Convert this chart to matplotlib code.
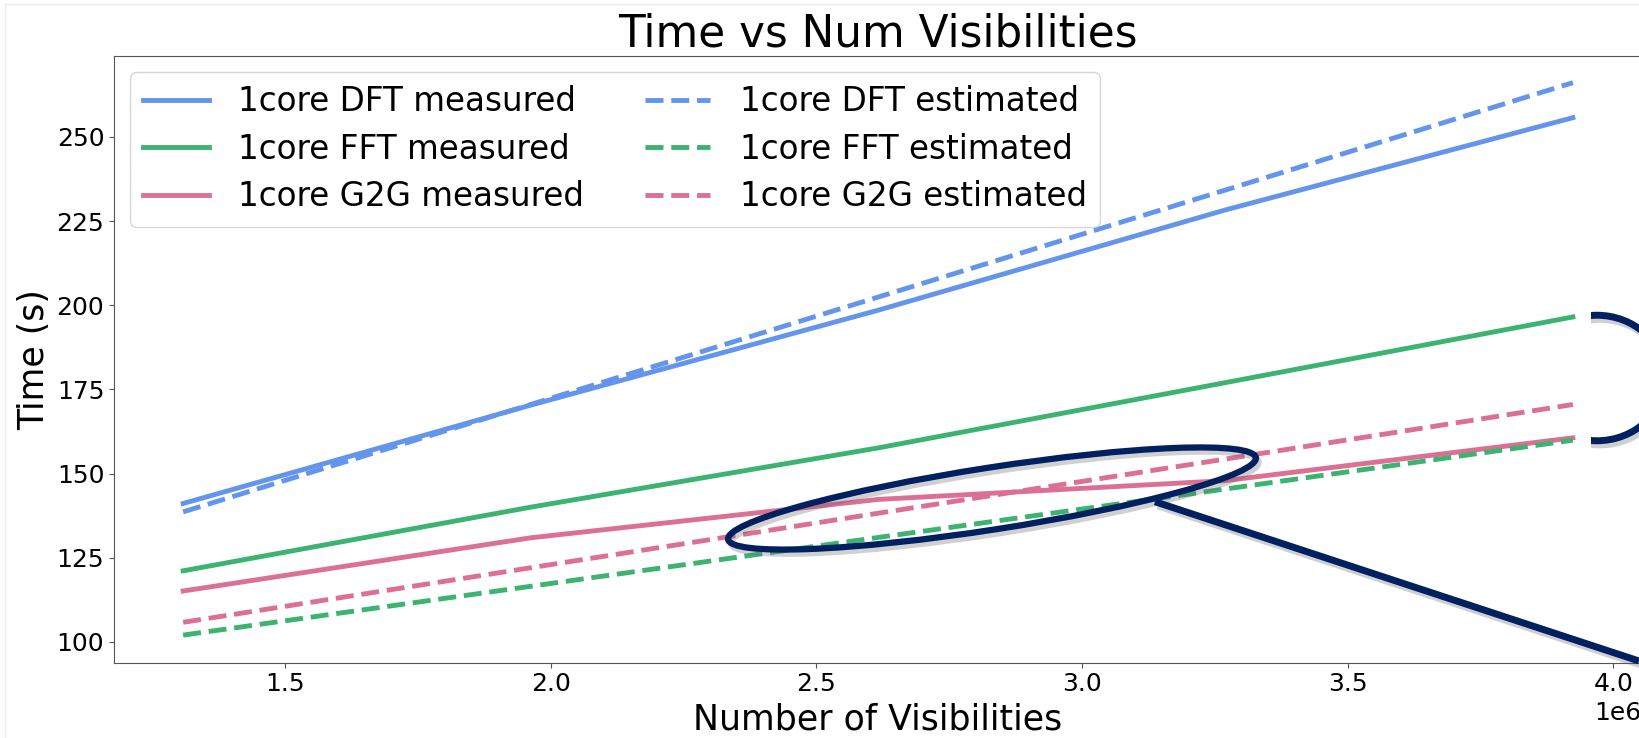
"""
Time vs number of visibilities for the 1-core DFT / FFT / G2G runs,
measured against estimated, with the highlighted crossing region.
"""

import matplotlib
matplotlib.use('Agg')
import matplotlib.pyplot as plt
import matplotlib.patheffects as pe
from matplotlib.patches import Ellipse, Rectangle
from matplotlib.lines import Line2D

# ── Data ───────────────────────────────────────────────────────────────────────
num_vis = [1.308e6, 1.962e6, 2.616e6, 3.270e6, 3.924e6]

dft_measured  = [141.1, 170.3, 198.5, 228.3, 255.7]
fft_measured  = [121.1, 140.0, 157.6, 177.0, 196.5]
g2g_measured  = [115.1, 130.9, 142.3, 147.9, 160.6]

dft_estimated = [138.6, 170.5, 202.4, 234.2, 266.1]
fft_estimated = [102.0, 116.5, 131.0, 145.4, 159.9]
g2g_estimated = [105.8, 122.0, 138.2, 154.3, 170.5]

y_ticks = [100, 125, 150, 175, 200, 225, 250]
x_ticks = [1.5e6, 2.0e6, 2.5e6, 3.0e6, 3.5e6, 4.0e6]

# ── Style ──────────────────────────────────────────────────────────────────────
plt.rcParams.update({
    'font.family':      'DejaVu Sans',
    'axes.edgecolor':   '#555555',
    'xtick.color':      '#555555',
    'ytick.color':      '#555555',
    'xtick.labelcolor': 'black',
    'ytick.labelcolor': 'black',
    'xtick.labelsize':  18,
    'ytick.labelsize':  18,
})

BLUE  = '#6495ED'
GREEN = '#3CB371'
PINK  = '#DB7093'
NAVY  = '#002060'
LW = 3.5

fig = plt.figure(figsize=(16.39, 7.38), dpi=100)
# axes run slightly past the right edge, the source picture was cropped there
ax = fig.add_axes([0.0696, 0.102, 0.9322, 0.8225])

ax.plot(num_vis, dft_measured, color=BLUE,  lw=LW, label='1core DFT measured')
ax.plot(num_vis, fft_measured, color=GREEN, lw=LW, label='1core FFT measured')
ax.plot(num_vis, g2g_measured, color=PINK,  lw=LW, label='1core G2G measured')
ax.plot(num_vis, dft_estimated, color=BLUE,  lw=LW, ls='--', label='1core DFT estimated')
ax.plot(num_vis, fft_estimated, color=GREEN, lw=LW, ls='--', label='1core FFT estimated')
ax.plot(num_vis, g2g_estimated, color=PINK,  lw=LW, ls='--', label='1core G2G estimated')

ax.set_xlim(1.178e6, 4.054e6)
ax.set_ylim(93.8, 274.1)
ax.set_xticks(x_ticks)
ax.set_yticks(y_ticks)

ax.set_title('Time vs Num Visibilities', fontsize=31.5)
ax.set_xlabel('Number of Visibilities', fontsize=25)
ax.set_ylabel('Time (s)', fontsize=25)

ax.legend(loc='upper left', ncol=2, fontsize=23.5, handlelength=2.0,
          handletextpad=0.9, columnspacing=1.87, labelspacing=0.45,
          borderaxespad=0.5)

# ── Hand-drawn style highlights (figure inches) ────────────────────────────────
shadow = [pe.SimpleLineShadow(offset=(2, -3), shadow_color='#666666', alpha=0.3),
          pe.Normal()]

ring = Ellipse((9.92, 2.395), 5.34, 0.62, angle=8.8, fill=False,
               edgecolor=NAVY, lw=4.5, transform=fig.dpi_scale_trans,
               path_effects=shadow)
fig.add_artist(ring)

pointer = Line2D([11.55, 16.39], [2.363, 0.77], color=NAVY, lw=5,
                 solid_capstyle='butt', transform=fig.dpi_scale_trans,
                 path_effects=shadow)
fig.add_artist(pointer)

# the zoom ring of the next panel, only its left part shows
side_ring = Ellipse((15.97, 3.60), 1.36, 1.255, fill=False, edgecolor=NAVY,
                    lw=5, transform=fig.dpi_scale_trans, path_effects=shadow)
fig.add_artist(side_ring)
clip = Rectangle((15.91, 0), 2.0, 7.38, transform=fig.dpi_scale_trans)
side_ring.set_clip_path(clip)

# faint screenshot border on top and left
fig.add_artist(Line2D([0.05, 16.39], [7.34, 7.34], color='#ececec', lw=1,
                      transform=fig.dpi_scale_trans))
fig.add_artist(Line2D([0.05, 0.05], [0, 7.34], color='#ececec', lw=1,
                      transform=fig.dpi_scale_trans))

fig.savefig('out.png', dpi=100)
